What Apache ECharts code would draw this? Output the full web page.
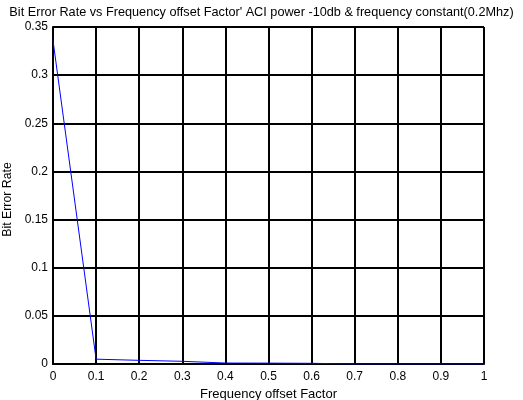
<!DOCTYPE html>
<html>
<head>
<meta charset="utf-8">
<script src="https://cdn.jsdelivr.net/npm/echarts@6/dist/echarts.min.js"></script>
<style>
  html, body { margin: 0; padding: 0; background: #fff; }
  #chart { width: 523px; height: 400px; }
</style>
</head>
<body>
<div id="chart"></div>
<script>
// Frequency offset factor samples and measured bit error rate
const offsetFactor = [0, 0.1, 0.2, 0.3, 0.4, 0.5, 0.6, 0.7, 0.8, 0.9, 1];
const bitErrorRate = [0.336, 0.005, 0.0038, 0.0028, 0.001, 0.0009, 0.0007, 0, 0, 0, 0];

const titleText = "Bit Error Rate vs Frequency offset Factor' ACI power -10db & frequency constant(0.2Mhz)";
const xName = 'Frequency offset Factor';
const yName = 'Bit Error Rate';

const font = 'Liberation Sans, Arial, sans-serif';
const chart = echarts.init(document.getElementById('chart'), null, { renderer: 'canvas' });

chart.setOption({
  animation: false,
  backgroundColor: '#fff',
  title: {
    text: titleText,
    left: 'center',
    top: 1,
    textStyle: { fontFamily: font, fontSize: 12.7, fontWeight: 'normal', color: '#000' }
  },
  grid: { left: 53, right: 39, top: 27, bottom: 36, outerBoundsMode: 'none', containLabel: false },
  xAxis: {
    type: 'value',
    min: 0, max: 1, interval: 0.1,
    name: xName,
    nameLocation: 'middle',
    nameGap: 21,
    nameTextStyle: { fontFamily: font, fontSize: 13, color: '#000' },
    axisLine: { show: true, onZero: false, lineStyle: { color: '#000', width: 2 } },
    axisTick: { show: true, inside: true, length: 4, lineStyle: { color: '#000' } },
    axisLabel: { fontFamily: font, fontSize: 12, color: '#000', margin: 7,
      formatter: v => String(Math.round(v * 10) / 10) },
    splitLine: { show: true, lineStyle: { color: '#000', width: 2 } }
  },
  yAxis: {
    type: 'value',
    min: 0, max: 0.35, interval: 0.05,
    name: yName,
    nameLocation: 'middle',
    nameGap: 33,
    nameTextStyle: { fontFamily: font, fontSize: 12.3, color: '#000', padding: [0, 8, 0, 0] },
    axisLine: { show: true, lineStyle: { color: '#000', width: 2 } },
    axisTick: { show: true, inside: true, length: 4, lineStyle: { color: '#000' } },
    axisLabel: { fontFamily: font, fontSize: 12, color: '#000', margin: 5,
      formatter: v => String(Math.round(v * 100) / 100) },
    splitLine: { show: true, lineStyle: { color: '#000', width: 2 } }
  },
  series: [{
    type: 'line',
    data: offsetFactor.map((x, i) => [x, bitErrorRate[i]]),
    showSymbol: false,
    lineStyle: { color: '#0000ff', width: 1 },
    itemStyle: { color: '#0000ff' },
    z: 10
  }]
});
</script>
</body>
</html>
